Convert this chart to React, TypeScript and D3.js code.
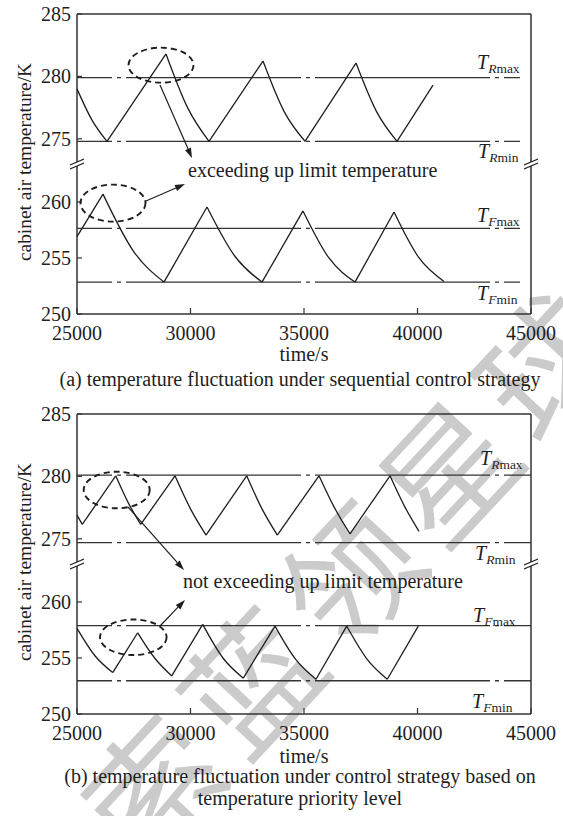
import React from 'react';
import * as d3 from 'd3';

const W = 563;
const H = 816;

// ---------- data ----------
const xTicks = [25000, 30000, 35000, 40000, 45000];
const yTicksUpper = [285, 280, 275];
const yTicksLower = [260, 255, 250];

// (a) sequential control strategy
const aRoomTime = [25000, 25660, 26322, 28921, 29870, 30815, 33194, 34120, 35044, 37291, 38190, 39097, 40683];
const aRoomTemp = [279.0, 276.5, 274.8, 281.8, 277.5, 274.8, 281.23, 277.2, 274.8, 281.07, 277.2, 274.8, 279.3];
const aFreezerTime = [25000, 26145, 27490, 28833, 30727, 31940, 33150, 34956, 36100, 37247, 38965, 40070, 41167];
const aFreezerTemp = [256.9, 260.7, 255.6, 252.85, 259.55, 255.2, 252.85, 259.2, 255.0, 252.85, 259.1, 255.0, 252.9];

// (b) temperature priority level strategy
const bRoomTime = [25000, 25233, 26705, 27255, 27806, 29317, 30000, 30683, 32476, 33150, 33824, 35661, 36340, 37026, 38789, 39430, 40066];
const bRoomTemp = [276.9, 276.15, 280.05, 277.9, 276.15, 280.05, 277.4, 275.3, 280.05, 277.4, 275.3, 280.05, 277.5, 275.4, 280.05, 277.6, 275.6];
const bFreezerTime = [25000, 25790, 26573, 27674, 28420, 29172, 30537, 31430, 32326, 33722, 34625, 35528, 36880, 37775, 38669, 40035];
const bFreezerTemp = [257.65, 255.2, 253.7, 257.25, 255.0, 253.4, 258.0, 255.0, 253.2, 257.85, 254.9, 253.1, 257.85, 254.9, 253.1, 257.85];

// limit lines: T_Rmax, T_Rmin, T_Fmax, T_Fmin
const limitNames = ['Rmax', 'Rmin', 'Fmax', 'Fmin'];
const limitLetters = ['R', 'R', 'F', 'F'];
const limitSuffix = ['max', 'min', 'max', 'min'];
const aLimitValues = [279.9, 274.8, 257.65, 252.85];
const bLimitValues = [280.1, 274.7, 257.88, 252.97];
const aLimitEnd = 44515;
const bLimitEnd = 45000;

const captionA = ['(a) temperature fluctuation under sequential control strategy'];
const captionB = ['(b) temperature fluctuation under control strategy based on', 'temperature priority level'];
const noteA = 'exceeding up limit temperature';
const noteB = 'not exceeding up limit temperature';
const yLabel = 'cabinet air temperature/K';
const xLabel = 'time/s';
const watermark = '搜索蓝领星球';

// ---------- layout ----------
const X0 = 77;
const X1 = 531;
const FONT = "'Liberation Serif', 'Times New Roman', serif";
const INK = '#1e1e1e';
const FS = 20;

const x = d3.scaleLinear().domain([25000, 45000]).range([X0, X1]);

function makePanel(off: number) {
  return {
    off,
    top: 14 + off,
    bottom: 314 + off,
    brk: 164 + off,
    yU: d3.scaleLinear().domain([272.9, 285]).range([165 + off, 14 + off]),
    yL: d3.scaleLinear().domain([250, 263.3]).range([314 + off, 165 + off]),
  };
}

function segments(ts: number[], vs: number[]) {
  const pts = ts.map((t, i) => [t, vs[i]] as [number, number]);
  const segs: [number, number][][] = [];
  let cur: [number, number][] = [pts[0]];
  for (let i = 1; i < pts.length; i++) {
    cur.push(pts[i]);
    if (i < pts.length - 1) {
      const a = pts[i - 1][1], b = pts[i][1], c = pts[i + 1][1];
      if ((b > a && b > c) || (b < a && b < c)) {
        segs.push(cur);
        cur = [pts[i]];
      }
    }
  }
  segs.push(cur);
  return segs;
}

function Curve({ ts, vs, y }: { ts: number[]; vs: number[]; y: d3.ScaleLinear<number, number> }) {
  const line = d3.line<[number, number]>().x(d => x(d[0])).y(d => y(d[1])).curve(d3.curveMonotoneX);
  return (
    <g>
      {segments(ts, vs).map((s, i) => (
        <path key={i} d={line(s) || ''} fill="none" stroke={INK} strokeWidth={1.3} strokeLinejoin="miter" />
      ))}
    </g>
  );
}

function Arrow({ x1, y1, x2, y2 }: { x1: number; y1: number; x2: number; y2: number }) {
  const a = Math.atan2(y2 - y1, x2 - x1);
  const L = 10, w = 3.2;
  const bx = x2 - L * Math.cos(a), by = y2 - L * Math.sin(a);
  const p1 = [bx + w * Math.sin(a), by - w * Math.cos(a)];
  const p2 = [bx - w * Math.sin(a), by + w * Math.cos(a)];
  return (
    <g>
      <line x1={x1} y1={y1} x2={bx} y2={by} stroke={INK} strokeWidth={1.2} />
      <polygon points={`${x2},${y2} ${p1[0]},${p1[1]} ${p2[0]},${p2[1]}`} fill={INK} />
    </g>
  );
}

function BreakMark({ cx, cy }: { cx: number; cy: number }) {
  return (
    <g stroke={INK} strokeWidth={1.3}>
      <line x1={cx - 7} y1={cy + 1} x2={cx + 7} y2={cy - 5} />
      <line x1={cx - 7} y1={cy + 5} x2={cx + 7} y2={cy - 1} />
    </g>
  );
}

function LimitLabel({ xPos, base, i }: { xPos: number; base: number; i: number }) {
  return (
    <text x={xPos} y={base} fontFamily={FONT} fill={INK}>
      <tspan fontStyle="italic" fontSize={20}>T</tspan>
      <tspan fontSize={13.5} dy={4} fontStyle="italic">{limitLetters[i]}</tspan>
      <tspan fontSize={13.5}>{limitSuffix[i]}</tspan>
    </text>
  );
}

function Panel({
  off, room, freezer, limits, limitEnd, labelPos, ellipses, arrows, note, notePos, caption, captionY, xLabelY,
}: any) {
  const p = makePanel(off);
  const upperLimit = (i: number) => (i < 2 ? p.yU : p.yL);
  return (
    <g>
      {/* frame */}
      <g stroke="#333" strokeWidth={1.5} fill="none">
        <line x1={X0} y1={p.top} x2={X1} y2={p.top} />
        <line x1={X0} y1={p.bottom} x2={X1} y2={p.bottom} />
        <line x1={X0} y1={p.top} x2={X0} y2={p.brk - 2} />
        <line x1={X0} y1={p.brk + 2} x2={X0} y2={p.bottom} />
        <line x1={X1} y1={p.top} x2={X1} y2={p.brk - 2} />
        <line x1={X1} y1={p.brk + 2} x2={X1} y2={p.bottom} />
      </g>
      <BreakMark cx={X0} cy={p.brk} />
      <BreakMark cx={X1} cy={p.brk} />

      {/* y ticks */}
      {yTicksUpper.map(v => (
        <g key={'u' + v}>
          <line x1={X0} x2={X0 + 5} y1={p.yU(v)} y2={p.yU(v)} stroke="#333" strokeWidth={1.2} />
          <text x={71} y={p.yU(v) + 6.8} textAnchor="end" fontFamily={FONT} fontSize={FS} fill={INK}>{v}</text>
        </g>
      ))}
      {yTicksLower.map(v => (
        <g key={'l' + v}>
          <line x1={X0} x2={X0 + 5} y1={p.yL(v)} y2={p.yL(v)} stroke="#333" strokeWidth={1.2} />
          <text x={71} y={p.yL(v) + 6.8} textAnchor="end" fontFamily={FONT} fontSize={FS} fill={INK}>{v}</text>
        </g>
      ))}
      {/* x ticks */}
      {xTicks.map(v => (
        <g key={'x' + v}>
          <line x1={x(v)} x2={x(v)} y1={p.bottom} y2={p.bottom - 6} stroke="#333" strokeWidth={1.2} />
          <text x={x(v)} y={p.bottom + 26} textAnchor="middle" fontFamily={FONT} fontSize={FS} fill={INK}>{v}</text>
        </g>
      ))}
      <text x={304} y={xLabelY} textAnchor="middle" fontFamily={FONT} fontSize={FS} fill={INK}>{xLabel}</text>
      <text transform={`translate(31,${162 + off}) rotate(-90)`} textAnchor="middle" fontFamily={FONT} fontSize={19.4} fill={INK}>{yLabel}</text>

      {/* limit lines */}
      {limits.map((v: number, i: number) => (
        <line key={limitNames[i]} x1={x(25000)} x2={x(limitEnd)} y1={upperLimit(i)(v)} y2={upperLimit(i)(v)}
          stroke="#333" strokeWidth={1.3} strokeDasharray="175 5 4 5" strokeDashoffset={140} />
      ))}
      {limits.map((v: number, i: number) => (
        <LimitLabel key={'lab' + i} xPos={labelPos[i][0]} base={upperLimit(i)(v) + labelPos[i][1]} i={i} />
      ))}

      {/* curves */}
      <Curve ts={room[0]} vs={room[1]} y={p.yU} />
      <Curve ts={freezer[0]} vs={freezer[1]} y={p.yL} />

      {/* annotations */}
      {ellipses.map((e: any, i: number) => (
        <ellipse key={'e' + i} cx={x(e.t)} cy={(e.upper ? p.yU : p.yL)(e.v)} rx={e.rx} ry={e.ry}
          fill="none" stroke={INK} strokeWidth={1.9} strokeDasharray="6 4" />
      ))}
      {arrows.map((a: number[], i: number) => (
        <Arrow key={'a' + i} x1={a[0]} y1={a[1] + off} x2={a[2]} y2={a[3] + off} />
      ))}
      <text x={notePos[0]} y={notePos[1] + off} fontFamily={FONT} fontSize={FS} fill={INK}>{note}</text>

      {caption.map((c: string, i: number) => (
        <text key={'c' + i} x={300} y={captionY[i]} textAnchor="middle" fontFamily={FONT} fontSize={FS} fill={INK}>{c}</text>
      ))}
    </g>
  );
}

export default function App() {
  return (
    <svg width={W} height={H} viewBox={`0 0 ${W} ${H}`} style={{ position: 'absolute', left: 0, top: 0, background: '#fff' }}>
      <rect x={0} y={0} width={W} height={H} fill="#fff" />
      {/* watermark */}
      <text transform="translate(300,620) rotate(-47)" textAnchor="middle" dominantBaseline="central"
        fontFamily="'Noto Sans CJK SC', sans-serif"
        fontWeight={400} fontSize={132} letterSpacing={12} fill="#c6c6c6" opacity={0.9}>{watermark}</text>

      <Panel
        off={0}
        room={[aRoomTime, aRoomTemp]}
        freezer={[aFreezerTime, aFreezerTemp]}
        limits={aLimitValues}
        limitEnd={aLimitEnd}
        labelPos={[[477, -9], [478, 17], [477, -6], [477, 18]]}
        ellipses={[
          { t: 28700, v: 280.9, upper: true, rx: 32.5, ry: 17.5 },
          { t: 26586, v: 259.9, upper: false, rx: 32.5, ry: 18.5 },
        ]}
        arrows={[[160, 85, 192, 158], [146, 201, 185, 184]]}
        note={noteA}
        notePos={[188, 177]}
        caption={captionA}
        captionY={[386]}
        xLabelY={361}
      />
      <Panel
        off={400}
        room={[bRoomTime, bRoomTemp]}
        freezer={[bFreezerTime, bFreezerTemp]}
        limits={bLimitValues}
        limitEnd={bLimitEnd}
        labelPos={[[480, -10], [475, 17], [473, -4], [472, 27]]}
        ellipses={[
          { t: 26749, v: 278.91, upper: true, rx: 33, ry: 18.3 },
          { t: 27480, v: 256.85, upper: false, rx: 33.3, ry: 17.8 },
        ]}
        arrows={[[128, 107, 184, 170], [160, 226, 185, 200]]}
        note={noteB}
        notePos={[183, 188]}
        caption={captionB}
        captionY={[783, 805]}
        xLabelY={763}
      />
    </svg>
  );
}
